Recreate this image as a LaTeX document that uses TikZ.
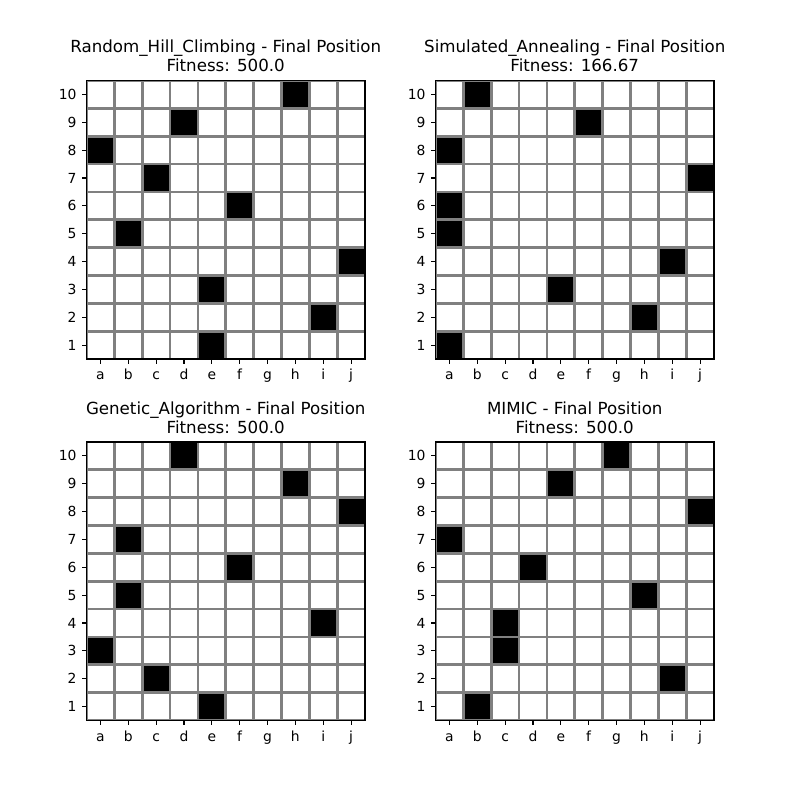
\documentclass[tikz,border=0pt]{standalone}
\usepackage{fontspec}
\setmainfont{DejaVu Sans}
\begin{document}
\begin{tikzpicture}[x=0.72pt,y=-0.72pt,
  gridline/.style={draw=gray, line width=2pt},
  frame/.style={draw=black, line width=0.8pt},
  tickmark/.style={draw=black, line width=0.8pt},
  queen/.style={fill=black},
  ticklabel/.style={font=\fontsize{10}{12}\selectfont, inner sep=0pt},
  titletext/.style={font=\fontsize{12}{14}\selectfont, inner sep=0pt, anchor=base}]
\useasboundingbox[fill=white] (0,0) rectangle (800,800);
\newcommand\drawboard[6]{% name X Y title fitness queens
  \begin{scope}[shift={(#2,#3)}]
    \def\bsz{27.85}
    \foreach \c [count=\r] in {#6} {
      \fill[queen] ({(\c-1)*\bsz},{(10-\r)*\bsz}) rectangle ++(\bsz,\bsz);
    }
    \begin{scope}
      \clip (0,0) rectangle (278.5,278.5);
      \foreach \i in {0,...,10} {
        \draw[gridline] ({\i*\bsz},0) -- ({\i*\bsz},278.5);
        \draw[gridline] (0,{\i*\bsz}) -- (278.5,{\i*\bsz});
      }
    \end{scope}
    \draw[frame] (0,0) rectangle (278.5,278.5);
    \foreach \r in {1,...,10} {
      \draw[tickmark] (0,{(10-\r+0.5)*\bsz}) -- (-4.86,{(10-\r+0.5)*\bsz});
      \node[ticklabel, anchor=base east] (#1-y\r) at (-9.72,{(10-\r+0.5)*\bsz+5.06}) {\r};
    }
    \foreach \l [count=\i] in {a,b,c,d,e,f,g,h,i,j} {
      \draw[tickmark] ({(\i-0.5)*\bsz},278.5) -- ({(\i-0.5)*\bsz},283.36);
      \node[ticklabel, anchor=base] (#1-x\i) at ({(\i-0.5)*\bsz},299.2) {\l};
    }
    \node[titletext] (#1-title) at (139.25,-27.8) {#4 - Final Position};
    \node[titletext] (#1-fit) at (139.25,-8.8) {Fitness: #5};
  \end{scope}}
\drawboard{rhc}{86.5}{80.5}{Random\_Hill\_Climbing}{500.0}{5,9,5,10,2,6,3,1,4,8}
\drawboard{sa}{435.5}{80.5}{Simulated\_Annealing}{166.67}{1,8,5,9,1,1,10,1,6,2}
\drawboard{ga}{86.5}{442}{Genetic\_Algorithm}{500.0}{5,3,1,9,2,6,2,10,8,4}
\drawboard{mimic}{435.5}{442}{MIMIC}{500.0}{2,9,3,3,8,4,1,10,5,7}
\end{tikzpicture}
\end{document}
